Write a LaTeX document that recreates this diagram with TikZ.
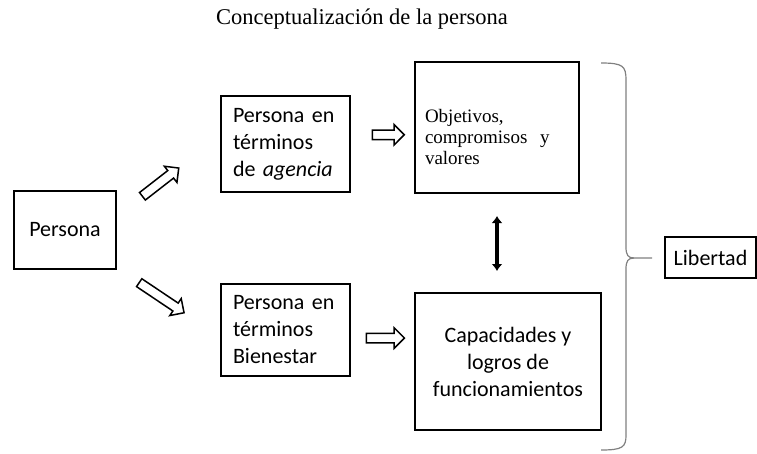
\documentclass[tikz,border=0pt]{standalone}
\usepackage{fontspec}
\setmainfont{Carlito}
\newfontfamily\tiempos{Liberation Serif}
\usetikzlibrary{arrows.meta,shapes.arrows}
\tikzset{caja/.style={draw,line width=2pt,inner sep=0pt,font=\fontsize{22}{27}\selectfont},
  flecha/.style={single arrow,draw,fill=white,line width=1.5pt,inner xsep=0pt,inner ysep=4pt,
    single arrow head extend=5.5pt,single arrow head indent=0pt,sloped},
  doble/.style={line width=3.2pt,{Latex[length=7pt,width=11pt]}-{Latex[length=7pt,width=11pt]}},
  llave/.style={draw=gray,line width=1.2pt}}
\newcommand{\caja}[4][]{\node[caja,#1] at (#2) (#3) {#4}}

\begin{document}
\begin{tikzpicture}[x=1pt,y=-1pt]
  \useasboundingbox (0,0) rectangle (757,453);

  \node[font=\tiempos\fontsize{22.5}{26}\selectfont] (titulo) at (362,19) {Conceptualización de la persona};

  \caja[minimum width=102pt,minimum height=78pt]{65,230}{persona}{Persona};
  \caja[minimum width=129pt,minimum height=96pt,text width=105pt,align=left]{285.5,144}{agencia}{Persona en\\términos\\de \emph{agencia}};
  \caja[minimum width=129pt,minimum height=92pt,text width=105pt,align=left]{285.5,330}{bienestar}{Persona en\\términos\\Bienestar};
  \caja[minimum width=164pt,minimum height=131pt,text width=144pt,align=left,
        font=\tiempos\fontsize{19}{21}\selectfont]{497,127.5}{objetivos}{\rule{0pt}{32pt}Objetivos,\\compromisos\ \ y\\valores};
  \caja[minimum width=186pt,minimum height=137pt,align=center]{508,361.5}{capacidades}{Capacidades y\\logros de\\funcionamientos};
  \caja[minimum width=91pt,minimum height=41pt]{710.5,257.5}{libertad}{Libertad};

  \path (persona.15) -- (agencia.173) node[flecha,pos=.405,minimum height=46pt] (f1) {};
  \path (persona.-36) -- (bienestar.186) node[flecha,pos=.414,minimum height=54pt] (f2) {};
  \path (agencia.8) -- (objetivos.185) node[flecha,pos=.554,minimum height=32pt] (f3) {};
  \path (bienestar.-7) -- (capacidades.166) node[flecha,pos=.508,minimum height=38pt] (f4) {};

  \draw[doble,shorten <=22pt,shorten >=21pt] (objetivos.south) -- (objetivos.south |- capacidades.north);

  \draw[llave] (601,63) .. controls (623,63) and (626,66) .. (626,80) -- (626,247)
        .. controls (626,255) and (628,258) .. (634,258) -- (652,258);
  \draw[llave] (634,258) .. controls (628,258) and (626,261) .. (626,269) -- (626,435)
        .. controls (626,447) and (623,450) .. (601,450);
\end{tikzpicture}
\end{document}
